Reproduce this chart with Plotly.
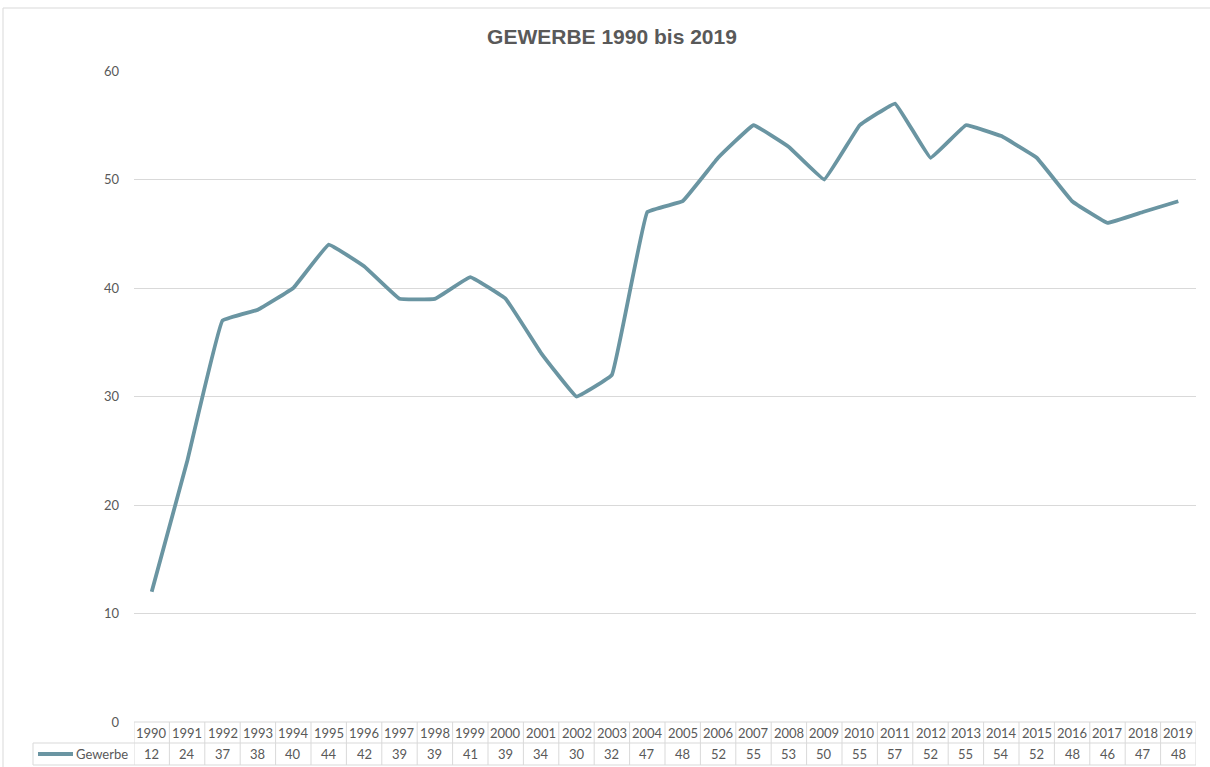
import plotly.graph_objects as go

years = [str(y) for y in range(1990, 2020)]
values = [12, 24, 37, 38, 40, 44, 42, 39, 39, 41, 39, 34, 30, 32, 47, 48, 52, 55, 53, 50, 55, 57, 52, 55, 54, 52, 48, 46, 47, 48]
series_name = "Gewerbe"
title_text = "GEWERBE 1990 bis 2019"
y_ticks = [0, 10, 20, 30, 40, 50, 60]

W, H = 1210, 767
L, R, T, B = 134, 1196, 71, 722
pw, ph = R - L, B - T

def px(x):
    return (x - L) / pw

def py(y):
    return (B - y) / ph

line_color = "#6A95A2"
grid_color = "#D9D9D9"
text_color = "#595959"
font_fam = "Lato, 'Open Sans', sans-serif"

xs = list(range(len(years)))
fig = go.Figure()
fig.add_trace(go.Scatter(
    x=xs, y=values, mode="lines", name=series_name,
    line=dict(color=line_color, width=3.8, shape="spline", smoothing=0.2),
    showlegend=False, hoverinfo="skip"))

shapes = []
annotations = []
row1_top, row1_bot, row2_bot = py(722), py(743), py(765)
n = len(years)
shapes.append(dict(type="line", xref="x", yref="paper", x0=-0.5, x1=n - 0.5, y0=row1_top, y1=row1_top,
                   line=dict(color=grid_color, width=1)))
for yy in (row1_bot, row2_bot):
    shapes.append(dict(type="line", xref="paper", yref="paper", x0=px(33), x1=px(R), y0=yy, y1=yy,
                       line=dict(color=grid_color, width=1)))
for i in range(n + 1):
    xv = i - 0.5
    shapes.append(dict(type="line", xref="x", yref="paper", x0=xv, x1=xv, y0=row1_top, y1=row2_bot,
                       line=dict(color=grid_color, width=1)))
shapes.append(dict(type="line", xref="paper", yref="paper", x0=px(33), x1=px(33), y0=row1_bot, y1=row2_bot,
                   line=dict(color=grid_color, width=1)))
shapes.append(dict(type="line", xref="paper", yref="paper", x0=px(38), x1=px(73), y0=py(754), y1=py(754),
                   line=dict(color=line_color, width=3.8)))
shapes.append(dict(type="rect", xref="paper", yref="paper", x0=px(3), x1=px(1300), y0=py(8), y1=py(900),
                   line=dict(color="#D9D9D9", width=1)))

for i, (yr, v) in enumerate(zip(years, values)):
    annotations.append(dict(x=i, y=(row1_top + row1_bot) / 2, xref="x", yref="paper", text=yr,
                            showarrow=False, font=dict(size=13, color=text_color, family=font_fam),
                            xanchor="center", yanchor="middle"))
    annotations.append(dict(x=i, y=(row1_bot + row2_bot) / 2, xref="x", yref="paper", text=str(v),
                            showarrow=False, font=dict(size=13, color=text_color, family=font_fam),
                            xanchor="center", yanchor="middle"))
annotations.append(dict(x=px(130), y=(row1_bot + row2_bot) / 2, xref="paper", yref="paper", text=series_name,
                        showarrow=False, font=dict(size=13, color=text_color, family=font_fam),
                        xanchor="right", yanchor="middle"))

fig.update_layout(
    width=W, height=H,
    margin=dict(l=L, r=W - R, t=T, b=H - B),
    paper_bgcolor="white", plot_bgcolor="white",
    title=dict(text="<b>" + title_text + "</b>", x=px(612), xref="paper", xanchor="center",
               y=1 - 37 / H, yanchor="middle",
               font=dict(family="'Liberation Sans', Arial, sans-serif", size=21, color=text_color)),
    xaxis=dict(range=[-0.5, n - 0.5], showticklabels=False, showgrid=False, zeroline=False,
               showline=False, ticks="", fixedrange=True),
    yaxis=dict(range=[0, 60], tickvals=y_ticks, showgrid=True, gridcolor=grid_color, gridwidth=1,
               zeroline=False, showline=False, ticks="", ticklabelstandoff=14, fixedrange=True,
               tickfont=dict(size=13, color=text_color, family=font_fam)),
    shapes=shapes, annotations=annotations,
)

fig.write_html("out.html", config={"displayModeBar": False},
               post_script="document.body.style.margin='0';document.body.style.overflow='hidden';")
